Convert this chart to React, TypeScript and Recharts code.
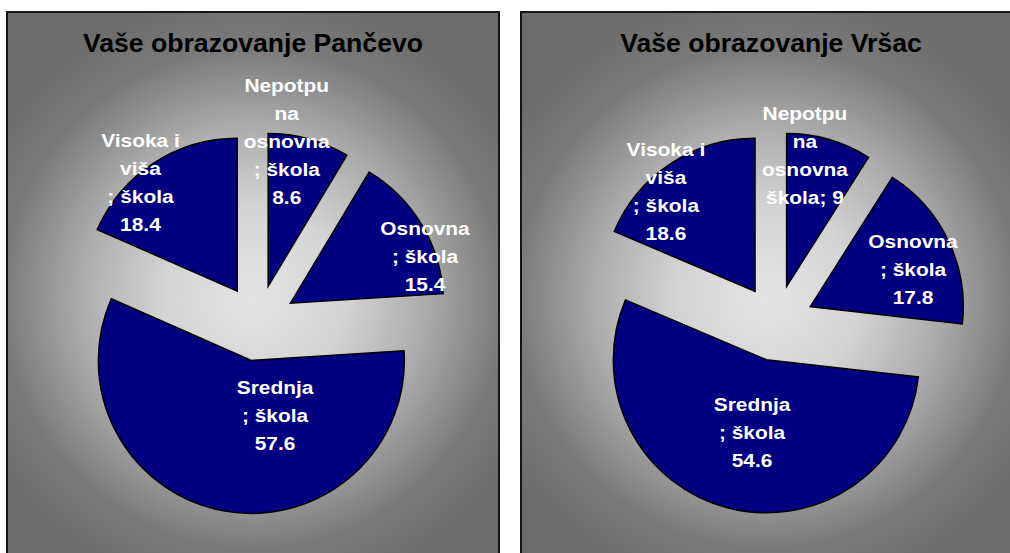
import React from "react";
import { PieChart, Pie, Sector } from "recharts";

// categories in Excel order (clockwise from 12 o'clock)
const categories = [
  "Nepotpuna osnovna škola",
  "Osnovna škola",
  "Srednja škola",
  "Visoka i viša škola",
];

const pancevoValues = [8.6, 15.4, 57.6, 18.4];
const vrsacValues = [9, 17.8, 54.6, 18.6];

// wrapped label text as it appears in each chart
const pancevoLabelLines = [
  ["Nepotpu", "na", "osnovna", "; škola"],
  ["Osnovna", "; škola"],
  ["Srednja", "; škola"],
  ["Visoka i", "viša", "; škola"],
];
const vrsacLabelLines = [
  ["Nepotpu", "na", "osnovna", "škola; "],
  ["Osnovna", "; škola"],
  ["Srednja", "; škola"],
  ["Visoka i", "viša", "; škola"],
];

const titles = ["Vaše obrazovanje Pančevo", "Vaše obrazovanje Vršac"];

// label placement: radius factor and angle nudge (deg, clockwise)
const pancevoLabelPos = [
  { rf: 1.204, da: -6.5 },
  { rf: 1.175, da: 9.6 },
  { rf: 0.616, da: -20.5 },
  { rf: 1.197, da: -6.8 },
];
const vrsacLabelPos = [
  { rf: 1.112, da: -6.4 },
  { rf: 0.963, da: 4.0 },
  { rf: 0.731, da: -2.4 },
  { rf: 1.122, da: -6.4 },
];

const FONT = "'Liberation Sans', Arial, Helvetica, sans-serif";
const NAVY = "#000080";
const EXPLODE = 38;
const RADIUS = 153;
const LINE_H = 28;
const LABEL_SIZE = 19;
const LABEL_STRETCH = 1.1;

const buildData = (values: number[]) =>
  categories.map((name, i) => ({ name, value: values[i] }));

const renderSlice = (props: any) => {
  const { cx, cy, midAngle } = props;
  const rad = (-midAngle * Math.PI) / 180;
  return (
    <Sector
      {...props}
      cx={cx + Math.cos(rad) * EXPLODE}
      cy={cy + Math.sin(rad) * EXPLODE}
    />
  );
};

const makeLabel =
  (lines: string[][], pos: { rf: number; da: number }[]) => (props: any) => {
    const { cx, cy, midAngle, outerRadius, index, value } = props;
    const p = pos[index];
    const ang = ((midAngle - p.da) * Math.PI) / 180;
    const x = cx + Math.cos(-ang) * outerRadius * p.rf;
    const y = cy + Math.sin(-ang) * outerRadius * p.rf;
    const base = lines[index];
    const last = base[base.length - 1];
    const all = last.endsWith("; ")
      ? [...base.slice(0, -1), last + String(value)]
      : [...base, String(value)];
    const y0 = y - ((all.length - 1) * LINE_H) / 2 + LABEL_SIZE * 0.358;
    return (
      <text
        key={`lbl-${index}`}
        x={x}
        y={y0}
        textAnchor="middle"
        fill="#ffffff"
        fontFamily={FONT}
        fontWeight="bold"
        fontSize={LABEL_SIZE}
        transform={`translate(${x} 0) scale(${LABEL_STRETCH} 1) translate(${-x} 0)`}
      >
        {all.map((t, i) => (
          <tspan key={i} x={x} dy={i === 0 ? 0 : LINE_H}>
            {t}
          </tspan>
        ))}
      </text>
    );
  };

const panelStyle = (left: number, width: number, rightBorder: boolean) => ({
  position: "absolute" as const,
  left,
  top: 11,
  width,
  height: 542,
  boxSizing: "border-box" as const,
  borderTop: "2px solid #151515",
  borderLeft: "2px solid #151515",
  borderRight: rightBorder ? "2px solid #151515" : "none",
  background:
    "radial-gradient(circle at 245px 285px, #e4e4e4 0px, #d4d4d4 90px, #adadad 170px, #909090 215px, #7a7a7a 250px, #6c6c6c 310px)",
});

const PiePanel = ({
  left,
  title,
  values,
  lines,
  pos,
  cx,
}: {
  left: number;
  title: string;
  values: number[];
  lines: string[][];
  pos: { rf: number; da: number }[];
  cx: number;
}) => (
  <div style={{ position: "absolute", left, top: 0, width: 505, height: 553 }}>
    <div
      style={{
        position: "absolute",
        left: 0,
        width: 505,
        top: 26,
        textAlign: "center",
        paddingLeft: cx * 2 - 505,
        boxSizing: "border-box",
        fontFamily: FONT,
        fontWeight: "bold",
        fontSize: 26.6,
        lineHeight: "34px",
        color: "#000",
      }}
    >
      {title}
    </div>
    <div style={{ position: "absolute", left: 0, top: 0 }}>
      <PieChart width={505} height={553}>
        <Pie
          data={buildData(values)}
          dataKey="value"
          nameKey="name"
          cx={cx}
          cy={318}
          outerRadius={RADIUS}
          startAngle={90}
          endAngle={-270}
          fill={NAVY}
          stroke="#000000"
          strokeWidth={1.5}
          shape={renderSlice}
          label={makeLabel(lines, pos)}
          labelLine={false}
          isAnimationActive={false}
        />
      </PieChart>
    </div>
  </div>
);

export default function App() {
  return (
    <div
      style={{
        position: "fixed",
        left: 0,
        top: 0,
        width: 1010,
        height: 553,
        overflow: "hidden",
        background: "#ffffff",
      }}
    >
      <div style={panelStyle(6, 494, true)} />
      <div style={panelStyle(520, 490, false)} />
      <PiePanel
        left={0}
        title={titles[0]}
        values={pancevoValues}
        lines={pancevoLabelLines}
        pos={pancevoLabelPos}
        cx={253}
      />
      <PiePanel
        left={505}
        title={titles[1]}
        values={vrsacValues}
        lines={vrsacLabelLines}
        pos={vrsacLabelPos}
        cx={266}
      />
    </div>
  );
}
